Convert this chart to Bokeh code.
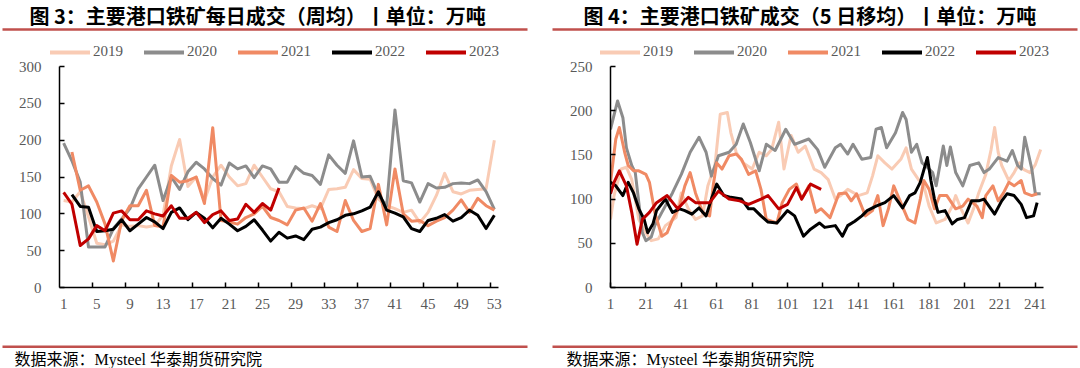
from bokeh.plotting import figure
from bokeh.models import Range1d, FixedTicker, Legend, LegendItem
from bokeh.layouts import row, column
from bokeh.core.properties import value
from bokeh.embed import file_html
from bokeh.resources import INLINE

NAN = float("nan")

years = ["2019", "2020", "2021", "2022", "2023"]
colors = ["#F9CBB4", "#8C8C8C", "#F08A64", "#000000", "#C00000"]

# ---------------- Figure 3: weekly average (weeks 1..53) ----------------
weeks = list(range(1, 54))
week_labels = [1, 5, 9, 13, 17, 21, 25, 29, 33, 37, 41, 45, 49, 53]

w2019 = [118, 116, 130, 96, 60, 58, 63, 85, 83, 84, 82, 84, 98, 165, 201, 137, 150, 118, 150, 166,
         150, 138, 141, 166, 150, 134, 130, 110, 108, 107, 111, 107, 133, 134, 136, 160, 148, 147, 120, 111,
         107, 102, 105, 88, 102, 125, 155, 130, 127, 132, 133, 134, 200]
w2020 = [196, 172, 143, 55, 55, 55, 80, 93, 107, 134, 150, 166, 118, 150, 133, 157, 170, 161, 148, 139,
         169, 161, 165, 149, 165, 161, 143, 143, 164, 155, 152, 140, 180, 166, 155, 199, 150, 151, 125, 111,
         241, 145, 142, 116, 141, 135, 136, 141, 142, 141, 146, 130, 106]
w2021 = [NAN, 184, 132, 138, 116, 86, 36, 91, 111, 111, 132, 84, 82, 152, 143, 145, 150, 114, 217, 91,
         89, 86, 95, 100, 110, 95, 91, 85, 105, 108, 90, 114, 82, 76, 118, 91, 76, 80, 140, 85,
         161, 100, 90, 91, 84, 90, 95, 105, 119, 102, 121, 111, 105]
w2022 = [NAN, 126, 110, 109, 76, 77, 79, 92, 77, 86, 95, 89, 80, 102, 108, 92, 102, 94, 81, 94,
         86, 77, 83, 92, 78, 63, 75, 67, 70, 65, 79, 82, 88, 92, 98, 100, 104, 109, 130, 105,
         101, 96, 80, 76, 91, 94, 99, 90, 95, 105, 98, 80, 98]
w2023 = [129, 113, 57, 66, 84, 77, 101, 104, 92, 92, 104, 100, 97, 111, 94, 94, 102, 88, 99, 104,
         91, 93, 113, 102, 114, 105, 135]

# ---------------- Figure 4: 5-day moving average (trading days) ----------------
day_labels = [1, 21, 41, 61, 81, 101, 121, 141, 161, 181, 201, 221, 241]

d2019 = [1, 3, 7, 10, 13, 17, 21, 24, 28, 32, 38, 41, 45, 49, 53, 56, 60, 63, 67, 69, 72, 76, 81, 85, 89,
         92, 96, 99, 103, 107, 111, 116, 120, 124, 128, 131, 135, 141, 146, 149, 152, 156, 160, 165, 168,
         171, 175, 178, 181, 185, 190, 194, 196, 199, 203, 207, 209, 213, 216, 218, 220, 222, 226, 229,
         232, 234, 238, 241, 244]
v2019 = [77, 104, 134, 136, 122, 77, 62, 53, 55, 70, 79, 107, 89, 77, 81, 115, 138, 196, 198, 175, 153,
         141, 134, 153, 149, 156, 187, 134, 172, 153, 160, 134, 130, 122, 100, 104, 111, 104, 107, 126,
         149, 141, 134, 145, 158, 134, 122, 115, 92, 73, 77, 92, 104, 89, 73, 94, 107, 128, 156, 181, 153,
         138, 121, 130, 141, 134, 130, 139, 156]

d2020 = [1, 5, 8, 10, 13, 15, 17, 19, 21, 24, 26, 30, 36, 41, 46, 51, 55, 58, 62, 68, 72, 76, 80, 85, 89,
         94, 100, 105, 113, 118, 122, 128, 131, 135, 138, 143, 148, 151, 154, 157, 162, 166, 168, 171,
         174, 177, 180, 183, 185, 189, 191, 193, 196, 200, 204, 209, 212, 215, 220, 225, 228, 231, 233,
         235, 239, 241, 244]
v2020 = [179, 211, 192, 158, 138, 130, 96, 62, 53, 57, 70, 85, 107, 128, 153, 170, 153, 126, 149, 153,
         162, 185, 164, 132, 162, 155, 179, 162, 168, 156, 136, 158, 162, 151, 162, 145, 147, 179, 181,
         158, 175, 198, 190, 153, 162, 141, 136, 130, 115, 160, 138, 159, 130, 115, 138, 141, 130, 134,
         147, 143, 155, 138, 134, 170, 134, 106, 106]

d2021 = [1, 4, 6, 9, 11, 14, 17, 21, 23, 26, 30, 33, 36, 40, 43, 46, 49, 53, 57, 59, 61, 64, 68, 72, 75,
         79, 83, 86, 89, 95, 98, 102, 106, 109, 113, 117, 120, 125, 130, 134, 137, 140, 145, 149, 152,
         155, 158, 161, 165, 169, 173, 176, 178, 181, 184, 187, 191, 196, 200, 203, 208, 211, 213, 217,
         220, 223, 226, 229, 233, 235, 239, 242]
v2021 = [119, 168, 181, 153, 138, 132, 132, 128, 119, 85, 58, 62, 77, 92, 115, 130, 107, 85, 81, 115,
         141, 134, 149, 151, 145, 128, 132, 111, 77, 73, 96, 111, 117, 100, 115, 85, 89, 79, 106, 107,
         98, 106, 81, 87, 104, 70, 89, 115, 96, 77, 73, 100, 121, 111, 89, 104, 104, 89, 92, 100, 92,
         79, 104, 115, 98, 107, 119, 115, 121, 107, 104, 106]

d2022 = [1, 4, 8, 11, 14, 17, 20, 22, 25, 27, 32, 36, 40, 43, 47, 51, 55, 58, 61, 65, 69, 75, 79, 82, 86,
         90, 95, 101, 105, 110, 114, 119, 122, 128, 132, 135, 139, 143, 146, 151, 156, 161, 166, 170,
         173, 176, 180, 182, 184, 186, 190, 194, 197, 201, 205, 209, 212, 218, 222, 225, 229, 233, 236,
         240, 242]
v2022 = [119, 115, 104, 119, 107, 89, 77, 62, 72, 87, 100, 85, 89, 87, 83, 90, 81, 100, 117, 104, 102,
         100, 89, 89, 81, 74, 73, 87, 81, 58, 66, 73, 68, 70, 58, 70, 75, 81, 87, 92, 96, 104, 90, 104,
         107, 119, 147, 121, 100, 85, 87, 72, 77, 79, 98, 98, 100, 83, 98, 106, 104, 94, 79, 81, 96]

d2023 = [1, 3, 6, 10, 13, 16, 19, 23, 27, 33, 39, 45, 49, 57, 62, 68, 74, 79, 86, 90, 96, 101, 106, 109,
         114, 120]
v2023 = [106, 119, 132, 115, 85, 49, 77, 85, 96, 104, 89, 102, 96, 96, 109, 100, 98, 94, 100, 104, 89,
         94, 113, 100, 117, 111]

title3 = "图 3：主要港口铁矿每日成交（周均）丨单位：万吨"
title4 = "图 4：主要港口铁矿成交（5 日移均）丨单位：万吨"
source = "数据来源：Mysteel 华泰期货研究院"

CJK = "Noto Sans CJK SC"
SERIF = "Liberation Serif"
RULE = "#C0504D"
TICK_COLOR = "#595959"
COL_W = 540
TOP_H = 58
MAIN_H = 259
BOT_H = 51


def blank_strip(height):
    s = figure(width=COL_W, height=height, x_range=Range1d(0, COL_W), y_range=Range1d(height, 0),
               output_backend="svg", toolbar_location=None,
               min_border_left=0, min_border_right=0, min_border_top=0, min_border_bottom=0)
    s.frame_align = False
    s.axis.visible = False
    s.xgrid.visible = False
    s.ygrid.visible = False
    s.outline_line_color = None
    return s


def top_strip(title, title_x, rule_x0, rule_x1, legend_x):
    s = blank_strip(TOP_H)
    s.text(x=[title_x], y=[15], text=[title], text_font=value(CJK), text_font_style="bold",
           text_font_size="20px", text_baseline="middle", text_color="black")
    s.segment(x0=[rule_x0], y0=[29], x1=[rule_x1], y1=[29], line_color=RULE, line_width=2.5)
    dummies = [s.line(x=[NAN, NAN], y=[NAN, NAN], line_color=c, line_width=4, line_cap="round")
               for c in colors]
    leg = Legend(items=[LegendItem(label=y, renderers=[r]) for y, r in zip(years, dummies)],
                 orientation="horizontal", location=(legend_x, -2),
                 glyph_width=40, glyph_height=16, label_height=16, label_standoff=3, spacing=21,
                 padding=0, margin=0, border_line_alpha=0, background_fill_alpha=0,
                 label_text_font=SERIF, label_text_font_size="15px",
                 label_text_color=TICK_COLOR)
    s.add_layout(leg)
    return s


def bottom_strip(src_x, rule_x0, rule_x1):
    s = blank_strip(BOT_H)
    s.segment(x0=[rule_x0], y0=[29.2], x1=[rule_x1], y1=[29.2], line_color=RULE, line_width=2.5)
    s.text(x=[src_x], y=[42], text=[source], text_font=value("Liberation Serif, Noto Sans CJK SC"),
           text_font_size="16px", text_baseline="middle", text_color="black")
    return s


def main_fig(x_range, y_range, left, right):
    p = figure(width=COL_W, height=MAIN_H, x_range=x_range, y_range=y_range,
               output_backend="svg", toolbar_location=None,
               min_border_left=left, min_border_right=right,
               min_border_top=8, min_border_bottom=30)
    p.frame_align = False
    p.outline_line_color = None
    p.xgrid.visible = False
    p.ygrid.visible = False
    for ax in (p.xaxis[0], p.yaxis[0]):
        ax.axis_line_color = "black"
        ax.axis_line_width = 1.5
        ax.major_label_text_font = SERIF
        ax.major_label_text_font_size = "15px"
        ax.major_label_text_color = TICK_COLOR
        ax.minor_tick_line_color = None
        ax.major_tick_line_color = "black"
        ax.major_tick_line_width = 1.5
        ax.major_tick_out = 0
        ax.major_tick_in = 5
    p.yaxis[0].major_label_standoff = 18
    p.xaxis[0].major_label_standoff = 11
    return p


# ---- left chart ----
p1 = main_fig(Range1d(0.5, 53.5), Range1d(0, 300), 59, 42)
p1.xaxis[0].ticker = FixedTicker(ticks=week_labels,
                                 minor_ticks=[k + 0.5 for k in range(4, 53, 4)])
p1.xaxis[0].major_tick_line_color = None
p1.xaxis[0].minor_tick_line_color = "black"
p1.xaxis[0].minor_tick_line_width = 1.5
p1.xaxis[0].minor_tick_in = 5
p1.xaxis[0].minor_tick_out = 0
p1.yaxis[0].ticker = FixedTicker(ticks=[0, 50, 100, 150, 200, 250, 300])

for c, vals in zip(colors, [w2019, w2020, w2021, w2022, w2023]):
    p1.line(weeks[:len(vals)], vals, line_color=c, line_width=3, line_join="round")

# ---- right chart ----
p2 = main_fig(Range1d(1, 245.6), Range1d(0, 250), 70, 37)
p2.xaxis[0].ticker = FixedTicker(ticks=day_labels)
p2.yaxis[0].ticker = FixedTicker(ticks=[0, 50, 100, 150, 200, 250])

for c, xs, vals in zip(colors, [d2019, d2020, d2021, d2022, d2023],
                       [v2019, v2020, v2021, v2022, v2023]):
    p2.line(xs, vals, line_color=c, line_width=3, line_join="round")

left_col = column(top_strip(title3, 29, 2, 527, 50), p1, bottom_strip(14, 2, 527))
right_col = column(top_strip(title4, 43, 12, 537, 60), p2, bottom_strip(26, 12, 537))

layout = row(left_col, right_col)
open("out.html", "w").write(file_html(layout, INLINE))
